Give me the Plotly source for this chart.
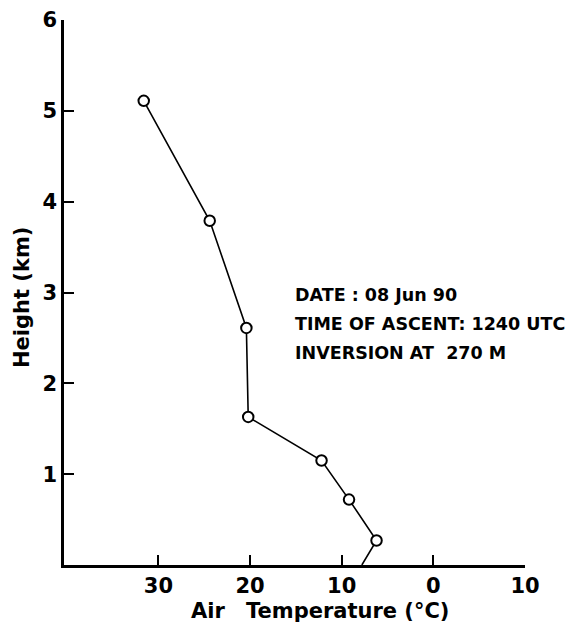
import plotly.graph_objects as go

# Data (temperature in °C, height in km)
temperature = [-7.8, -6.2, -9.2, -12.2, -20.2, -20.4, -24.4, -31.6]
height = [0.0, 0.27, 0.72, 1.15, 1.63, 2.61, 3.79, 5.11]
show_marker = [False, True, True, True, True, True, True, True]

x_tickvals = [-30, -20, -10, 0, 10]
x_ticktext = ["30", "20", "10", "0", "10"]
y_tickvals = [1, 2, 3, 4, 5, 6]
y_ticktext = ["1", "2", "3", "4", "5", "6"]

info_lines = ["DATE : 08 Jun 90", "TIME OF ASCENT: 1240 UTC", "INVERSION AT  270 M"]

FONT = "DejaVu Sans"
L, R, T, B = 64, 49, 20, 66
W, H = 574, 631
PW, PH = W - L - R, H - T - B

fig = go.Figure()
fig.add_trace(go.Scatter(
    x=temperature, y=height, mode="lines",
    line=dict(color="black", width=1.6),
    showlegend=False, hoverinfo="skip",
))
fig.add_trace(go.Scatter(
    x=[t for t, m in zip(temperature, show_marker) if m],
    y=[h for h, m in zip(height, show_marker) if m],
    mode="markers",
    marker=dict(symbol="circle", size=10.5, color="white",
                line=dict(color="black", width=2)),
    showlegend=False,
))

fig.update_layout(
    width=W, height=H,
    margin=dict(l=L, r=R, t=T, b=B, autoexpand=False),
    paper_bgcolor="white", plot_bgcolor="white",
    font=dict(family=FONT, color="black"),
    xaxis=dict(
        range=[-40.3, 10], tickvals=x_tickvals,
        ticktext=["<b>" + t + "</b>" for t in x_ticktext],
        ticks="inside", ticklen=10, tickwidth=2, tickcolor="black",
        showline=True, linecolor="black", linewidth=2.5,
        showgrid=False, zeroline=False, automargin=False,
        tickfont=dict(family=FONT, size=21, color="black"),
    ),
    yaxis=dict(
        range=[0, 6], tickvals=y_tickvals,
        ticktext=["<b>" + t + "</b>" for t in y_ticktext],
        ticks="inside", ticklen=10, tickwidth=2, tickcolor="black",
        showline=True, linecolor="black", linewidth=2.5,
        showgrid=False, zeroline=False, automargin=False,
        tickfont=dict(family=FONT, size=21, color="black"),
    ),
)

# x-axis title, drawn as two words with the wide gap of the original lettering
for word, cx in [("Air", 208), ("Temperature (°C)", 347)]:
    fig.add_annotation(
        text="<b>" + word + "</b>", xref="paper", yref="paper",
        x=(cx - L) / PW, y=-(611 - (H - B)) / PH,
        xanchor="center", yanchor="middle", showarrow=False,
        font=dict(family=FONT, size=21, color="black"),
    )
fig.add_annotation(
    text="<b>Height (km)</b>", xref="paper", yref="paper",
    x=-(L - 22) / PW, y=((H - B) - 298) / PH,
    xanchor="center", yanchor="middle", textangle=-90, showarrow=False,
    font=dict(family=FONT, size=21, color="black"),
)
for i, line in enumerate(info_lines):
    fig.add_annotation(
        text="<b>" + line + "</b>", xref="paper", yref="paper",
        x=(293 - L) / PW, y=((H - B) - (295 + 29 * i)) / PH,
        xanchor="left", yanchor="middle", showarrow=False,
        font=dict(family=FONT, size=17.5, color="black"),
    )

fig.write_html(
    "out.html",
    config={"displayModeBar": False},
    post_script="document.body.style.margin='0';document.body.style.overflow='hidden';",
)
